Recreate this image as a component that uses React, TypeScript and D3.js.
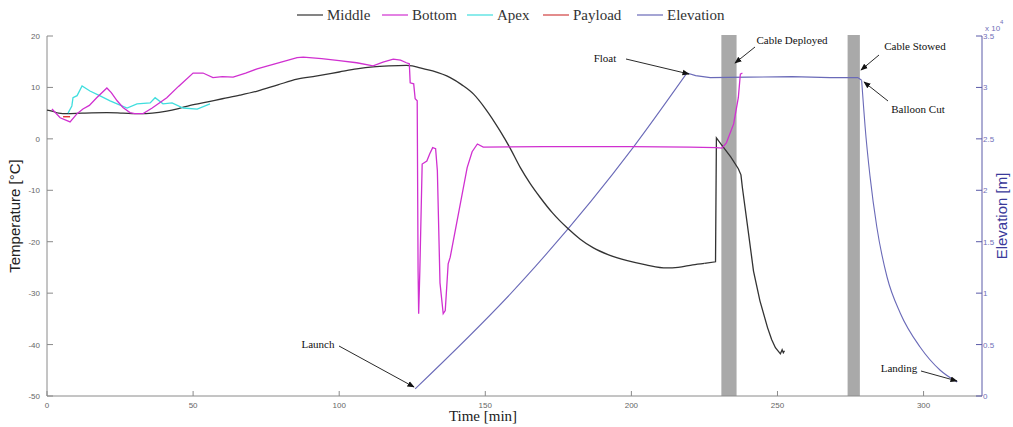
import React from "react";
import * as d3 from "d3";

// time [min], value
const middle: [number, number][] = [
  [0, 5.6], [1.7, 5.4], [4, 5.0], [6.8, 4.9], [12, 5.0], [20.5, 5.1], [26, 5.0], [31.8, 4.9],
  [36, 5.0], [41, 5.4], [45, 5.9], [49, 6.5], [55, 7.2], [60, 7.8], [66, 8.5], [72, 9.3],
  [79, 10.5], [85.6, 11.6], [92, 12.2], [100, 13.0], [106, 13.6], [111.6, 14.0], [117, 14.2],
  [123, 14.3], [125, 14.2], [127.7, 13.8], [132, 13.2], [138, 11.9], [142, 10.5], [146, 8.7],
  [150, 5.9], [155, 1.6], [158.5, -1.8], [162, -5.6], [165.5, -8.8], [168.8, -11.4], [173, -14.4],
  [178, -17.3], [182.5, -19.5], [187, -21.2], [192, -22.5], [198.6, -23.7], [205, -24.5],
  [212, -25.1], [216, -25.0], [221, -24.5], [225, -24.2], [228.8, -23.9], [229.1, 0.2],
  [231.2, -1.4], [234, -3.5], [236.6, -5.8], [237.5, -7.0], [238, -9.5], [240, -18.0],
  [241.8, -25.7], [244, -31.5], [246.6, -36.7], [248, -39.0], [249.3, -40.6], [251, -41.8],
  [251.6, -41.0], [252, -41.6], [252.4, -41.2]
];

const bottom: [number, number][] = [
  [1.7, 5.8], [4.5, 4.1], [7.9, 3.3], [10.3, 4.9], [12.3, 5.8], [14.5, 6.5], [17, 8.0],
  [20.5, 9.9], [22, 9.0], [24, 7.4], [26, 6.1], [28.4, 5.1], [30, 4.9], [32.9, 4.9], [36, 6.0],
  [41, 8.0], [45, 10.2], [50, 12.8], [53.4, 12.8], [56.8, 11.9], [60, 12.1], [63.7, 12.0],
  [68, 12.8], [71.9, 13.6], [78, 14.6], [85.6, 15.8], [87.7, 15.9], [94, 15.6], [100, 15.2],
  [106, 14.8], [111.6, 14.2], [115, 14.9], [118.5, 15.5], [121, 15.3], [123, 14.8],
  [124, 14.6], [124.3, 10.9], [125.5, 10.7], [126, 7.8], [126.7, 7.4], [127, -25.7],
  [127.2, -34.0], [127.6, -25.7], [128.4, -4.9], [130, -4.3], [131, -2.9], [132, -1.7],
  [133, -1.9], [133.6, -6.2], [134.5, -28.0], [135.6, -34.0], [136.3, -33.4], [137.3, -24.3],
  [138, -23.0], [141, -14.0], [143.8, -5.6], [145.5, -2.5], [147.3, -1.0], [149.3, -1.6],
  [170, -1.5], [200, -1.5], [220, -1.6], [229, -1.7], [231, -1.8], [232.5, -0.8], [235, 2.9],
  [236.6, 8.0], [237.3, 12.6], [238, 12.8]
];

const apex: [number, number][] = [
  [7.2, 5.0], [8.5, 6.4], [8.9, 8.0], [10.3, 8.4], [12, 10.3], [14.7, 9.3], [18, 8.4],
  [21.6, 7.4], [24, 6.8], [27.4, 6.0], [30.8, 6.8], [35.3, 7.0], [37, 8.0], [39.7, 6.8],
  [42.8, 7.0], [46.6, 6.0], [51.4, 5.8], [55.8, 6.8]
];

const payload: [number, number][] = [
  [5.5, 4.3], [7.9, 4.3]
];

// ascent, float, descent
const elevation: [number, number][] = [
  [126, 700], [163, 11280], [200.7, 24200], [219, 31400],
  [222, 31150], [227, 30950], [240, 31000], [255, 31050], [268, 30950], [277.5, 30950],
  [278.8, 30700], [279.5, 28000], [280, 26150], [281.7, 21300], [284, 16430],
  [287.5, 11570], [292, 8070], [298.8, 4760], [305.6, 2530], [311.5, 1360]
];

const bands: [number, number][] = [[230.8, 236], [274, 278.2]];

const xTicks = [0, 50, 100, 150, 200, 250, 300];
const tempTicks = [20, 10, 0, -10, -20, -30, -40, -50];
const elevTicks = [0, 5000, 10000, 15000, 20000, 25000, 30000, 35000];

const legendItems = [
  { name: "Middle", color: "#333333" },
  { name: "Bottom", color: "#d030d0" },
  { name: "Apex", color: "#40dede" },
  { name: "Payload", color: "#d04040" },
  { name: "Elevation", color: "#6a6ab8" }
];

const notes = [
  { text: "Float", tx: 605, ty: 62, from: [626, 59], to: [689, 74] },
  { text: "Cable Deployed", tx: 792, ty: 44, from: [755, 47], to: [735, 63] },
  { text: "Cable Stowed", tx: 915, ty: 50, from: [879, 55], to: [861, 70] },
  { text: "Balloon Cut", tx: 918, ty: 113, from: [888, 101], to: [864, 82] },
  { text: "Launch", tx: 318, ty: 348, from: [339, 346], to: [414, 387] },
  { text: "Landing", tx: 899, ty: 372, from: [921, 371], to: [957, 381] }
];

const SERIF = "'Liberation Serif', 'Times New Roman', serif";
const SANS = "'Liberation Sans', Arial, sans-serif";

export default function App() {
  const W = 1013, H = 427;
  const x = d3.scaleLinear().domain([0, 320]).range([47, 982]);
  const yT = d3.scaleLinear().domain([-50, 20]).range([396, 36]);
  const yE = d3.scaleLinear().domain([0, 35000]).range([396, 36]);

  const tLine = d3.line<[number, number]>().x(d => x(d[0])).y(d => yT(d[1]));
  const eLin = d3.line<[number, number]>().x(d => x(d[0])).y(d => yE(d[1]));
  const eCurve = d3.line<[number, number]>().x(d => x(d[0])).y(d => yE(d[1])).curve(d3.curveMonotoneX);
  const tSmooth = d3.line<[number, number]>().x(d => x(d[0])).y(d => yT(d[1])).curve(d3.curveMonotoneX);

  const legendX = [297, 382, 467, 543, 637];
  const axisColor = "#8a8a8a";
  const elevColor = "#5a5aa8";

  return (
    <svg width={W} height={H} style={{ position: "absolute", left: 0, top: 0, background: "#fff" }}>
      <defs>
        <marker id="ah" viewBox="0 0 10 10" refX="9" refY="5" markerWidth="8" markerHeight="8" orient="auto">
          <path d="M0,1 L10,5 L0,9 z" fill="#111" />
        </marker>
      </defs>

      {bands.map((b, i) => (
        <rect key={i} x={x(b[0])} y={35} width={x(b[1]) - x(b[0])} height={396 - 35} fill="#a9a9a9" />
      ))}

      {/* bottom axis */}
      <line x1={47} x2={982} y1={396} y2={396} stroke={axisColor} />
      {xTicks.map(t => (
        <g key={t}>
          <line x1={x(t)} x2={x(t)} y1={396} y2={391} stroke={axisColor} />
          <text x={x(t)} y={408} fontSize={8} fill="#666" textAnchor="middle" fontFamily={SANS}>{t}</text>
        </g>
      ))}
      <text x={483} y={421} fontSize={15} fill="#222" textAnchor="middle" fontFamily={SERIF}>Time [min]</text>

      {/* left axis */}
      <line x1={47} x2={47} y1={36} y2={396} stroke={axisColor} />
      {tempTicks.map(t => (
        <g key={t}>
          <line x1={47} x2={53} y1={yT(t)} y2={yT(t)} stroke={axisColor} />
          <text x={40} y={yT(t) + 3} fontSize={8} fill="#666" textAnchor="end" fontFamily={SANS}>{t}</text>
        </g>
      ))}
      <text transform="translate(20,216) rotate(-90)" fontSize={15} fill="#222" textAnchor="middle" fontFamily={SANS}>Temperature [°C]</text>

      {/* right axis */}
      <line x1={982} x2={982} y1={36} y2={396} stroke={elevColor} />
      {elevTicks.map(t => (
        <g key={t}>
          <line x1={976} x2={982} y1={yE(t)} y2={yE(t)} stroke={elevColor} />
          <text x={983} y={yE(t) + 3} fontSize={8} fill="#7070b8" fontFamily={SANS}>{t / 10000}</text>
        </g>
      ))}
      <text x={985} y={31} fontSize={8} fill="#7070b8" fontFamily={SANS}>x 10</text>
      <text x={1000} y={24} fontSize={6} fill="#7070b8" fontFamily={SANS}>4</text>
      <text transform="translate(1007,216) rotate(-90)" fontSize={15} fill="#3a3a9a" textAnchor="middle" fontFamily={SANS}>Elevation [m]</text>

      {/* series */}
      <path d={eCurve(elevation.slice(0, 4)) ?? ""} fill="none" stroke="#6a6ab8" strokeWidth={1.1} />
      <path d={eLin(elevation.slice(3, 11)) ?? ""} fill="none" stroke="#6a6ab8" strokeWidth={1.1} />
      <path d={eCurve(elevation.slice(10)) ?? ""} fill="none" stroke="#6a6ab8" strokeWidth={1.1} />
      <path d={tSmooth(middle.slice(0, 47)) ?? ""} fill="none" stroke="#333" strokeWidth={1.3} />
      <path d={tLine(middle.slice(46)) ?? ""} fill="none" stroke="#333" strokeWidth={1.3} />
      <path d={tLine(apex) ?? ""} fill="none" stroke="#40dede" strokeWidth={1.3} />
      <path d={tLine(bottom) ?? ""} fill="none" stroke="#d030d0" strokeWidth={1.3} />
      <path d={tLine(payload) ?? ""} fill="none" stroke="#e02020" strokeWidth={1.3} />

      {/* legend */}
      {legendItems.map((it, i) => (
        <g key={it.name}>
          <line x1={legendX[i]} x2={legendX[i] + 26} y1={15} y2={15} stroke={it.color} strokeWidth={1.2} />
          <text x={legendX[i] + 30} y={20} fontSize={15} fill="#333" fontFamily={SERIF}>{it.name}</text>
        </g>
      ))}

      {/* annotations */}
      {notes.map(n => (
        <g key={n.text}>
          <line x1={n.from[0]} y1={n.from[1]} x2={n.to[0]} y2={n.to[1]} stroke="#111" strokeWidth={0.9} markerEnd="url(#ah)" />
          <text x={n.tx} y={n.ty} fontSize={11} fill="#111" textAnchor="middle" fontFamily={SERIF}>{n.text}</text>
        </g>
      ))}
    </svg>
  );
}
